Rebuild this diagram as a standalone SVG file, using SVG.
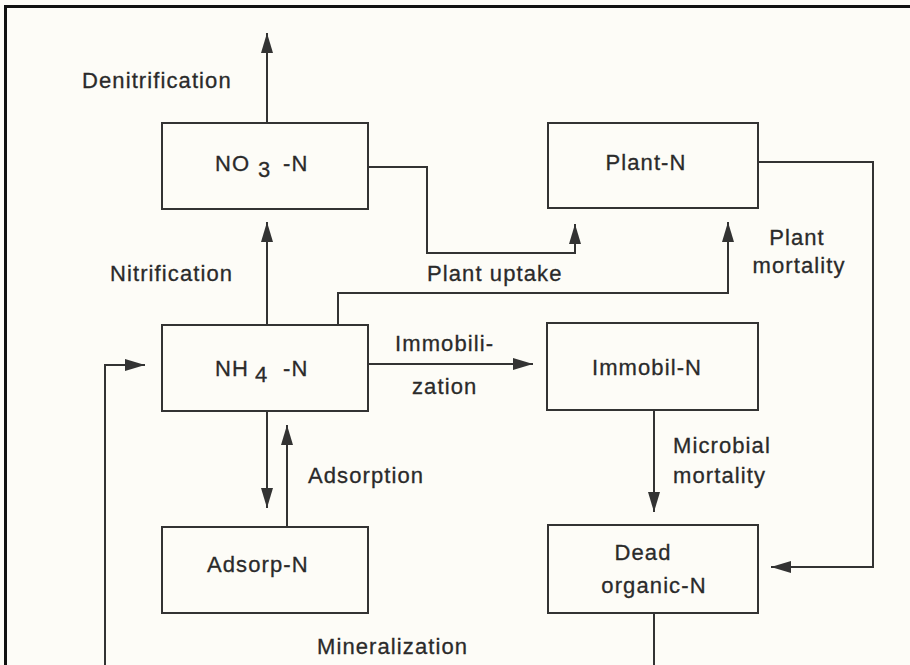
<svg xmlns="http://www.w3.org/2000/svg" width="910" height="665" viewBox="0 0 910 665">
<defs>
<marker id="ah" markerUnits="userSpaceOnUse" markerWidth="20" markerHeight="12" refX="20" refY="6" orient="auto">
<path d="M0,0 L20,6 L0,12 z" fill="#333"/>
</marker>
<style>
.box{fill:none;stroke:#333;stroke-width:2}
.ln{fill:none;stroke:#333;stroke-width:2}
.arr{fill:none;stroke:#333;stroke-width:2;marker-end:url(#ah)}
text{font-family:"Liberation Sans",Arial,sans-serif;font-size:22px;letter-spacing:1.1px;fill:#2a2a2a;stroke:#2a2a2a;stroke-width:0.3px}
.c{text-anchor:middle}
</style>
</defs>
<rect x="0" y="0" width="910" height="665" fill="#fdfcf7"/>
<g id="frame">
<line x1="4" y1="6.5" x2="910" y2="6.5" stroke="#111" stroke-width="3"/>
<line x1="5.5" y1="5" x2="5.5" y2="665" stroke="#111" stroke-width="3"/>
</g>
<g id="connectors">
<line class="arr" x1="267" y1="123" x2="267" y2="33"/>
<line class="arr" x1="267" y1="325" x2="267" y2="222"/>
<polyline class="arr" points="368,167 427,167 427,253 575,253 575,224"/>
<polyline class="arr" points="338,325 338,293 728,293 728,222"/>
<polyline class="arr" points="758,162 873,162 873,567 771,567"/>
<line class="arr" x1="368" y1="364" x2="533" y2="364"/>
<line class="arr" x1="654" y1="410" x2="654" y2="512"/>
<line class="arr" x1="267" y1="411" x2="267" y2="508"/>
<line class="arr" x1="287" y1="527" x2="287" y2="425"/>
<line class="ln" x1="654" y1="613" x2="654" y2="668"/>
<polyline class="arr" points="105,668 105,365 145,365"/>
</g>
<g id="labels">
<text x="82" y="88">Denitrification</text>
<text x="110" y="281">Nitrification</text>
<text x="427" y="281">Plant uptake</text>
<text class="c" x="797" y="245">Plant</text>
<text class="c" x="799" y="273">mortality</text>
<text x="395" y="351">Immobili-</text>
<text x="412" y="394">zation</text>
<text x="673" y="453">Microbial</text>
<text x="673" y="483">mortality</text>
<text x="308" y="483">Adsorption</text>
<text x="317" y="654">Mineralization</text>
</g>
<g id="node-no3">
<rect class="box" x="162" y="123" width="206" height="86"/>
<text x="215" y="171">NO</text>
<text x="258" y="177">3</text>
<text x="283" y="171">-N</text>
</g>
<g id="node-plant">
<rect class="box" x="548" y="123" width="210" height="85"/>
<text class="c" x="646" y="170">Plant-N</text>
</g>
<g id="node-nh4">
<rect class="box" x="162" y="325" width="206" height="86"/>
<text x="215" y="376">NH</text>
<text x="255" y="382">4</text>
<text x="283" y="376">-N</text>
</g>
<g id="node-immobil">
<rect class="box" x="547" y="323" width="211" height="87"/>
<text class="c" x="647" y="375">Immobil-N</text>
</g>
<g id="node-adsorp">
<rect class="box" x="162" y="527" width="206" height="86"/>
<text x="207" y="572">Adsorp-N</text>
</g>
<g id="node-dead">
<rect class="box" x="548" y="525" width="210" height="88"/>
<text class="c" x="643" y="560">Dead</text>
<text class="c" x="654" y="593">organic-N</text>
</g>
</svg>
